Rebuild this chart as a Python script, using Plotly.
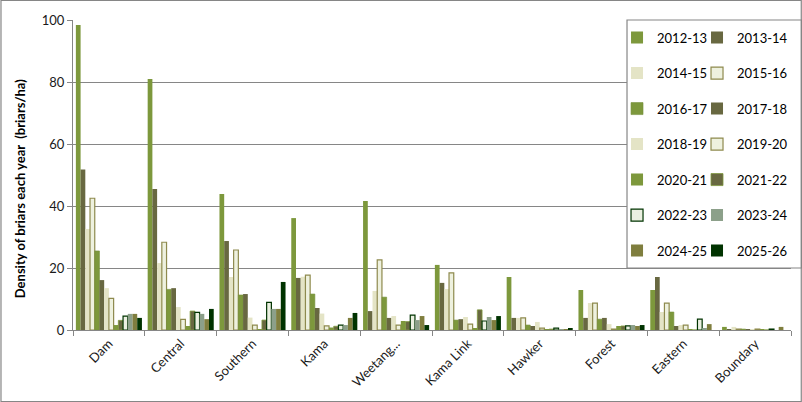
import plotly.graph_objects as go

sites = ['Dam', 'Central', 'Southern', 'Kama', 'Weetang...', 'Kama Link',
         'Hawker', 'Forest', 'Eastern', 'Boundary']

years = ['2012-13', '2013-14', '2014-15', '2015-16', '2016-17', '2017-18', '2018-19',
         '2019-20', '2020-21', '2021-22', '2022-23', '2023-24', '2024-25', '2025-26']

y2012_13 = [98.4, 81.0, 43.9, 36.1, 41.6, 21.0, 17.1, 12.9, 12.9, 1.0]
y2013_14 = [51.8, 45.5, 28.7, 16.8, 6.1, 15.2, 3.9, 3.9, 17.1, 0.3]
y2014_15 = [32.6, 21.6, 17.1, 17.2, 12.6, 13.2, 3.9, 8.7, 5.8, 1.0]
y2015_16 = [42.5, 28.3, 25.8, 17.7, 22.6, 18.4, 3.9, 8.7, 8.7, 0.3]
y2016_17 = [25.5, 13.1, 11.3, 11.6, 10.6, 3.2, 1.6, 3.5, 5.8, 0.3]
y2017_18 = [16.1, 13.5, 11.6, 7.1, 3.9, 3.5, 1.3, 3.9, 1.3, 0.3]
y2018_19 = [13.5, 7.4, 4.0, 5.3, 4.5, 4.2, 2.6, 1.9, 1.6, 0.3]
y2019_20 = [10.2, 3.4, 1.6, 1.3, 1.6, 1.9, 0.6, 0.3, 1.6, 0.3]
y2020_21 = [1.6, 1.3, 0.3, 0.8, 2.9, 0.6, 0.1, 1.3, 0.3, 0.3]
y2021_22 = [3.1, 6.1, 3.2, 1.2, 2.7, 6.5, 0.3, 1.3, 0.0, 0.0]
y2022_23 = [4.5, 5.7, 8.9, 1.6, 4.8, 2.9, 0.6, 1.3, 3.5, 0.3]
y2023_24 = [5.2, 5.2, 6.8, 1.6, 3.2, 4.2, 0.3, 1.6, 0.6, 0.0]
y2024_25 = [5.2, 3.5, 6.8, 3.9, 4.5, 3.2, 0.3, 1.3, 1.9, 1.0]
y2025_26 = [3.9, 6.8, 15.5, 5.5, 1.6, 4.5, 0.6, 1.6, 0.0, 0.0]

series = [y2012_13, y2013_14, y2014_15, y2015_16, y2016_17, y2017_18, y2018_19,
          y2019_20, y2020_21, y2021_22, y2022_23, y2023_24, y2024_25, y2025_26]

OLIVE = '#7d983c'
DARK = '#686841'
CREAM = '#e4e4c6'
PALE = '#eef1df'
# (fill, outline colour, outline width)
styles = [
    (OLIVE, OLIVE, 0), (DARK, DARK, 0), (CREAM, CREAM, 0), (PALE, '#8e8a4e', 1.2),
    (OLIVE, '#76903a', 0.6), (DARK, DARK, 0), (CREAM, CREAM, 0), (PALE, '#8e8a4e', 1.2),
    (OLIVE, OLIVE, 0), (DARK, OLIVE, 0.8), ('#ebf0e1', '#003300', 1.2), ('#8ca08a', '#8ca08a', 0),
    ('#7f7e3e', '#7f7e3e', 0), ('#003300', '#003300', 0),
]

fig = go.Figure()
for i, (yr, vals) in enumerate(zip(years, series)):
    fill, edge, lw = styles[i]
    fig.add_trace(go.Bar(
        x=sites, y=vals, name=yr,
        marker=dict(color=fill, line=dict(color=edge, width=lw)),
        legend='legend' if i % 2 == 0 else 'legend2',
        legendgroup=yr,
    ))

GRID = '#868686'
FONT = 'Lato, Open Sans, sans-serif'
legend_font = dict(family=FONT, size=13, color='black')

fig.update_layout(
    width=802, height=402,
    margin=dict(l=73, r=11, t=20, b=72, autoexpand=False),
    paper_bgcolor='white', plot_bgcolor='white',
    font=dict(family=FONT, size=13, color='#1a1a1a'),
    barmode='group', bargap=0.08, bargroupgap=0,
    legend=dict(x=0.7577, y=0.9915, xanchor='left', yanchor='top',
                bgcolor='rgba(0,0,0,0)', font=legend_font,
                tracegroupgap=15.6, itemclick=False),
    legend2=dict(x=0.8691, y=0.9915, xanchor='left', yanchor='top',
                 bgcolor='rgba(0,0,0,0)', font=legend_font,
                 tracegroupgap=15.6, itemclick=False),
    shapes=[
        # legend box
        dict(type='rect', xref='paper', yref='paper', x0=0.7716, x1=1.0146, y0=0.2, y1=1.0,
             fillcolor='white', line=dict(color=GRID, width=1.2), layer='above'),
        # chart border
        dict(type='rect', xref='paper', yref='paper', x0=-0.1003, x1=1.0143, y0=-0.2306, y1=1.0629,
             line=dict(color=GRID, width=1.2), layer='above'),
    ],
    annotations=[
        dict(text='<b>Density of briars each year  (briars/ha)</b>', xref='paper', yref='paper',
             x=-0.0735, y=0.455, xanchor='center', yanchor='middle', textangle=-90,
             showarrow=False, font=dict(family=FONT, size=13, color='black')),
    ],
)

fig.update_yaxes(
    range=[0, 100], dtick=20, showgrid=True, gridcolor=GRID, gridwidth=1,
    showline=True, linecolor=GRID, linewidth=1, ticks='outside', ticklen=5,
    tickcolor=GRID, tickfont=dict(size=13), zeroline=False, automargin=False,
)
fig.update_xaxes(
    showline=True, linecolor=GRID, linewidth=1, ticks='outside', ticklen=5,
    tickcolor=GRID, tickson='boundaries', tickangle=-45, tickfont=dict(size=13),
    automargin=False,
)

fig.write_html("out.html", config={'displayModeBar': False},
               post_script="document.body.style.margin='0';")
